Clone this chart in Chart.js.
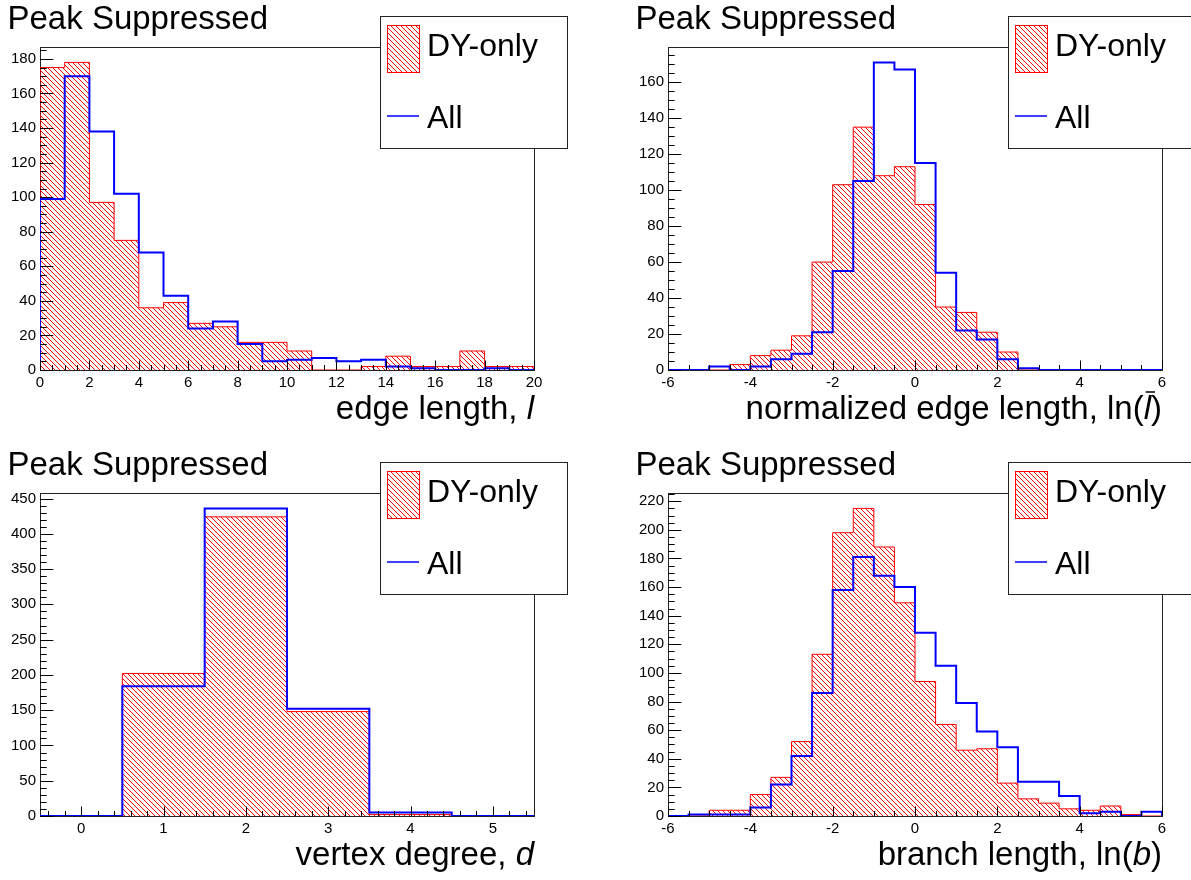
<!DOCTYPE html>
<html>
<head>
<meta charset="utf-8">
<script src="https://cdn.jsdelivr.net/npm/chart.js@4.4.0/dist/chart.umd.min.js"></script>
<style>
  body { margin: 0; background: #fff; width: 1191px; height: 880px; overflow: hidden; position: relative; }
  .pad { position: absolute; width: 628px; height: 446px; }
</style>
</head>
<body>
<div class="pad" style="left:0;top:0"><canvas id="c1" width="628" height="446"></canvas></div>
<div class="pad" style="left:628px;top:0"><canvas id="c2" width="628" height="446"></canvas></div>
<div class="pad" style="left:0;top:446px"><canvas id="c3" width="628" height="446"></canvas></div>
<div class="pad" style="left:628px;top:446px"><canvas id="c4" width="628" height="446"></canvas></div>
<script>
const panelTitle = 'Peak Suppressed';
const seriesNames = ['DY-only', 'All'];

// edge length, l  (20 bins, 0..20)
const edgeLenRange = [0, 20];
const edgeLenDY  = [175, 178, 97, 75, 36, 39, 27, 25, 16, 16, 11, 0, 0, 2, 8, 2, 2, 11, 2, 2];
const edgeLenAll = [99, 170, 138, 102, 68, 43, 24, 28, 15, 5, 6, 7, 5, 6, 2, 1, 0, 0, 1, 0];
const edgeLenTicks  = [0, 2, 4, 6, 8, 10, 12, 14, 16, 18, 20];
const edgeLenYTicks = [0, 20, 40, 60, 80, 100, 120, 140, 160, 180];

// normalized edge length, ln(l) (24 bins, -6..6)
const normLenRange = [-6, 6];
const normLenDY  = [0, 0, 0, 3, 8, 11, 19, 60, 103, 135, 108, 113, 92, 35, 32, 21, 10, 0, 0, 0, 0, 0, 0, 0];
const normLenAll = [0, 0, 2, 0, 2, 6, 9, 21, 55, 105, 171, 167, 115, 54, 22, 17, 6, 1, 0, 0, 0, 0, 0, 0];
const normLenTicks  = [-6, -4, -2, 0, 2, 4, 6];
const normLenYTicks = [0, 20, 40, 60, 80, 100, 120, 140, 160];

// vertex degree, d (6 bins, -0.5..5.5)
const degreeRange = [-0.5, 5.5];
const degreeDY  = [0, 202, 424, 148, 2, 0];
const degreeAll = [0, 184, 436, 152, 5, 0];
const degreeTicks  = [0, 1, 2, 3, 4, 5];
const degreeYTicks = [0, 50, 100, 150, 200, 250, 300, 350, 400, 450];

// branch length, ln(b) (24 bins, -6..6)
const branchRange = [-6, 6];
const branchDY  = [0, 0, 4, 4, 15, 27, 52, 113, 198, 215, 188, 149, 94, 64, 46, 47, 23, 12, 9, 5, 4, 7, 1, 0];
const branchAll = [0, 1, 1, 1, 6, 22, 42, 86, 158, 181, 168, 160, 128, 105, 79, 59, 48, 24, 24, 14, 2, 3, 0, 3];
const branchTicks  = [-6, -4, -2, 0, 2, 4, 6];
const branchYTicks = [0, 20, 40, 60, 80, 100, 120, 140, 160, 180, 200, 220];

const FONT = '"Liberation Sans", Arial, Helvetica, sans-serif';

// red "\\\" hatch like ROOT fill style 3004
function makeHatch() {
  const c = document.createElement('canvas');
  c.width = 5; c.height = 5;
  const g = c.getContext('2d');
  g.strokeStyle = '#ff0000';
  g.lineWidth = 1;
  g.beginPath();
  for (const k of [-5, 0, 5]) {
    g.moveTo(-1, -1 + k);
    g.lineTo(6, 6 + k);
  }
  g.stroke();
  return g.createPattern(c, 'repeat');
}
const hatch = makeHatch();

// bin contents -> outline points for a stepped line
function histPoints(range, vals) {
  const w = (range[1] - range[0]) / vals.length;
  const pts = [{ x: range[0], y: 0 }];
  vals.forEach((v, i) => pts.push({ x: range[0] + i * w, y: v }));
  pts.push({ x: range[1], y: vals[vals.length - 1] });
  pts.push({ x: range[1], y: 0 });
  return pts;
}

function drawTicks(ctx, scale, majors, step, horizontal, area) {
  const min = scale.min, max = scale.max;
  ctx.save();
  ctx.strokeStyle = '#000';
  ctx.lineWidth = 1;
  ctx.beginPath();
  for (let i = Math.ceil(min / step - 1e-9); i * step <= max + 1e-9; i++) {
    const v = i * step;
    const major = majors.some(m => Math.abs(m - v) < 1e-6);
    const p = Math.round(scale.getPixelForValue(v)) + 0.5;
    if (horizontal) {
      const len = major ? 9.5 : 5;
      ctx.moveTo(p, area.bottom);
      ctx.lineTo(p, area.bottom - len);
    } else {
      const len = major ? 13.3 : 6.7;
      ctx.moveTo(area.left, p);
      ctx.lineTo(area.left + len, p);
    }
  }
  ctx.stroke();
  ctx.restore();
}

function rootStyle(p) {
  return {
    id: 'rootStyle',
    beforeDatasetsDraw(chart) {
      const a = chart.chartArea, ctx = chart.ctx;
      ctx.save();
      ctx.strokeStyle = '#222';
      ctx.lineWidth = 1;
      ctx.strokeRect(a.left + 0.5, a.top + 0.5, a.right - a.left, a.bottom - a.top);
      ctx.restore();
    },
    afterDatasetsDraw(chart) {
      const a = chart.chartArea, ctx = chart.ctx;
      drawTicks(ctx, chart.scales.x, p.xTicks, p.xMinor, true, a);
      drawTicks(ctx, chart.scales.y, p.yTicks, p.yMinor, false, a);
    },
    afterDraw(chart) {
      const a = chart.chartArea, ctx = chart.ctx;
      ctx.save();
      // title
      ctx.fillStyle = '#000';
      ctx.font = '33px ' + FONT;
      ctx.textBaseline = 'alphabetic';
      ctx.fillText(panelTitle, 7.5, 29);

      // legend
      const lx = 380, ly = 16, lw = 187, lh = 132;
      ctx.fillStyle = '#fff';
      ctx.fillRect(lx, ly, lw, lh);
      ctx.strokeStyle = '#222';
      ctx.lineWidth = 1;
      ctx.strokeRect(lx + 0.5, ly + 0.5, lw, lh);
      ctx.fillStyle = hatch;
      ctx.fillRect(387, 25, 32, 47);
      ctx.strokeStyle = '#ff0000';
      ctx.strokeRect(387.5, 25.5, 32, 47);
      ctx.strokeStyle = '#0000ff';
      ctx.lineWidth = 1.5;
      ctx.beginPath();
      ctx.moveTo(387, 116);
      ctx.lineTo(419, 116);
      ctx.stroke();
      ctx.fillStyle = '#000';
      ctx.font = '32px ' + FONT;
      ctx.fillText(seriesNames[0], 427, 56);
      ctx.fillText(seriesNames[1], 427, 128);

      // x-axis title, right aligned at the frame edge
      const segs = p.xTitle;
      const fontOf = s => (s.it ? 'italic ' : '') + '33px ' + FONT;
      let total = 0;
      segs.forEach(s => { ctx.font = fontOf(s); total += ctx.measureText(s.t).width; });
      let x = a.right - total;
      const base = 419;
      segs.forEach(s => {
        ctx.font = fontOf(s);
        const w = ctx.measureText(s.t).width;
        ctx.fillText(s.t, x, base);
        if (s.bar) {
          ctx.strokeStyle = '#000';
          ctx.lineWidth = 1.5;
          ctx.beginPath();
          ctx.moveTo(x + 2, base - 27);
          ctx.lineTo(x + w + 4, base - 27);
          ctx.stroke();
        }
        x += w;
      });
      ctx.restore();
    }
  };
}

const panels = [
  { id: 'c1', range: edgeLenRange, dy: edgeLenDY, all: edgeLenAll, xTicks: edgeLenTicks, yTicks: edgeLenYTicks,
    xMinor: 0.5, yMinor: 5, xTitle: [{ t: 'edge length, ' }, { t: 'l', it: true }] },
  { id: 'c2', range: normLenRange, dy: normLenDY, all: normLenAll, xTicks: normLenTicks, yTicks: normLenYTicks,
    xMinor: 0.5, yMinor: 5, xTitle: [{ t: 'normalized edge length, ln(' }, { t: 'l', it: true, bar: true }, { t: ')' }] },
  { id: 'c3', range: degreeRange, dy: degreeDY, all: degreeAll, xTicks: degreeTicks, yTicks: degreeYTicks,
    xMinor: 0.2, yMinor: 10, xTitle: [{ t: 'vertex degree, ' }, { t: 'd', it: true }] },
  { id: 'c4', range: branchRange, dy: branchDY, all: branchAll, xTicks: branchTicks, yTicks: branchYTicks,
    xMinor: 0.5, yMinor: 5, xTitle: [{ t: 'branch length, ln(' }, { t: 'b', it: true }, { t: ')' }] }
];

const tickFont = { family: FONT, size: 15 };

panels.forEach(p => {
  const yMax = 1.05 * Math.max(...p.dy, ...p.all);
  new Chart(document.getElementById(p.id), {
    type: 'line',
    data: {
      datasets: [
        { label: seriesNames[1], data: histPoints(p.range, p.all), borderColor: '#0000ff', borderWidth: 2,
          stepped: true, fill: false, pointRadius: 0 },
        { label: seriesNames[0], data: histPoints(p.range, p.dy), borderColor: '#ff0000', borderWidth: 1,
          stepped: true, fill: 'origin', backgroundColor: hatch, pointRadius: 0 }
      ]
    },
    options: {
      responsive: false,
      animation: false,
      layout: { padding: { left: 0, right: 94, top: 47, bottom: 0 } },
      plugins: { legend: { display: false }, tooltip: { enabled: false } },
      scales: {
        x: {
          type: 'linear', min: p.range[0], max: p.range[1],
          grid: { display: false, drawTicks: false }, border: { display: false },
          ticks: { font: tickFont, color: '#000', padding: 4, maxRotation: 0, autoSkip: false, callback: v => String(v) },
          afterBuildTicks: s => { s.ticks = p.xTicks.map(v => ({ value: v })); },
          afterFit: s => { s.height = 76; }
        },
        y: {
          type: 'linear', min: 0, max: yMax,
          grid: { display: false, drawTicks: false }, border: { display: false },
          ticks: { font: tickFont, color: '#000', padding: 4, autoSkip: false, callback: v => String(v) },
          afterBuildTicks: s => { s.ticks = p.yTicks.map(v => ({ value: v })); },
          afterFit: s => { s.width = 40; }
        }
      }
    },
    plugins: [rootStyle(p)]
  });
});
</script>
</body>
</html>
